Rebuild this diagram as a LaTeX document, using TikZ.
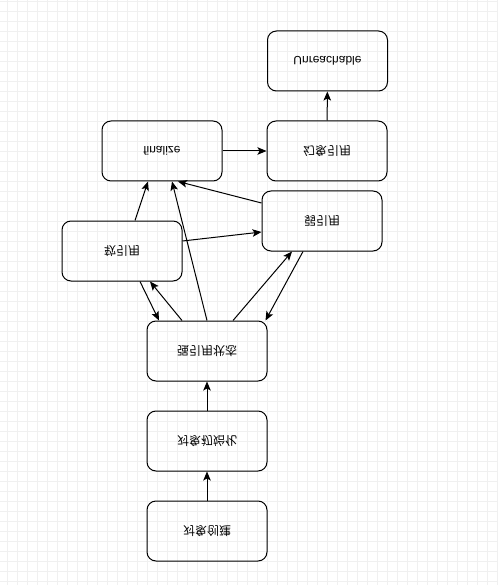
\documentclass[tikz,border=0pt]{standalone}
\usepackage{fontspec}
\setmainfont{Liberation Sans}
\newfontfamily\cjk{Noto Sans CJK SC}
\usepackage{graphicx}
\usetikzlibrary{arrows.meta}
\newcommand{\flp}[1]{\scalebox{1}[-1]{#1}}

\begin{document}
\begin{tikzpicture}[x=1pt,y=-1pt]
	\tikzset{state/.style={draw, rounded corners=9pt, minimum width=120pt, minimum height=60pt, line width=1pt, font=\fontsize{12pt}{14pt}\selectfont}}
	\tikzset{link/.style={line width=1pt, -{Stealth[length=9pt,width=7.5pt,inset=2pt]}}}
	\useasboundingbox (0,0) rectangle (497,585);
	\draw[black!6, line width=0.6pt, step=10pt, shift={(7,1)}] (-7,-1) grid (490,584);
	% boxes
	\node[state] (unreach) at (327.5,61) {\flp{Unreachable}};
	\node[state] (fin) at (162,151) {\flp{finalize}};
	\node[state] (phantom) at (327,151) {\flp{\cjk 幻象引用}};
	\node[state] (weak) at (322,221) {\flp{\cjk 弱引用}};
	\node[state] (soft) at (122,251) {\flp{\cjk 软引用}};
	\node[state] (strong) at (207,351) {\flp{\cjk 强引用状态}};
	\node[state] (init) at (207,441) {\flp{\cjk 对象初始化}};
	\node[state] (create) at (207,531) {\flp{\cjk 对象创建}};
	% links
	\draw[link] (create) -- (init);
	\draw[link] (init) -- (strong);
	\draw[link] (phantom) -- (unreach);
	\draw[link] (fin) -- (phantom);
	\draw[link] ([yshift=18pt]weak.west) -- ([xshift=16pt]fin.south);
	\draw[link] ([xshift=13pt]soft.north) -- ([xshift=-14pt]fin.south);
	\draw[link] (strong.north) -- ([xshift=10pt]fin.south);
	\draw[link] ([yshift=10pt]soft.east) -- ([yshift=-11pt]weak.west);
	\draw[link] ([xshift=26pt]strong.north) -- ([xshift=-30pt]weak.south);
	\draw[link] ([xshift=-19pt]weak.south) -- ([xshift=-2pt]strong.north east);
	\draw[link] ([xshift=18pt]soft.south) -- ([xshift=-48pt]strong.north);
	\draw[link] ([xshift=-25pt]strong.north) -- ([xshift=28pt]soft.south);
\end{tikzpicture}
\end{document}
